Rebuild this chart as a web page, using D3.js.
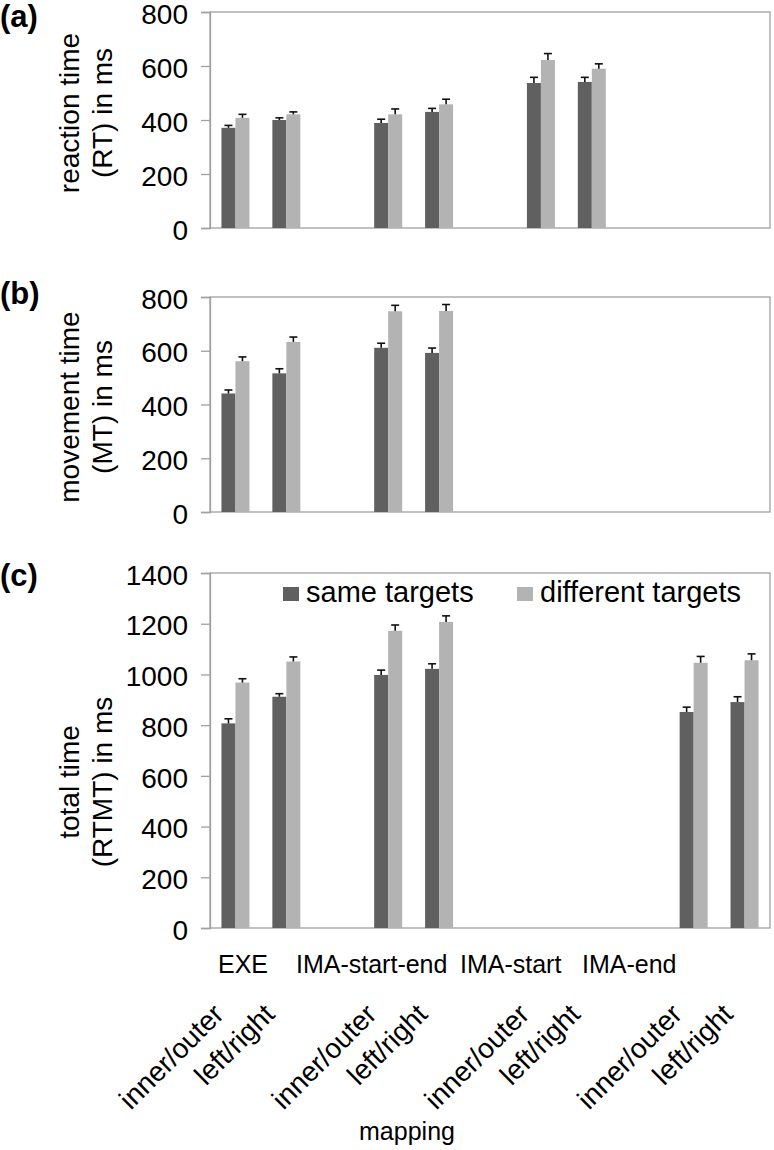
<!DOCTYPE html>
<html lang="en">
<head>
    <meta charset="UTF-8">
    <title>RT / MT / RTMT by mapping</title>
    <style>
        body {
            margin: 0;
            background: #fff;
        }
        svg text {
            font-family: "Liberation Sans", Arial, sans-serif;
            fill: #000;
        }
    </style>
</head>
<body>
    <script src="https://d3js.org/d3.v7.min.js"></script>
    <script>
        const W = 774
        const H = 1150

        const mappings = ['EXE', 'IMA-start-end', 'IMA-start', 'IMA-end']
        const subs = ['inner/outer', 'left/right']
        const seriesNames = ['same targets', 'different targets']

        // order: EXE io, EXE lr, IMA-se io, IMA-se lr, IMA-s io, IMA-s lr, IMA-e io, IMA-e lr
        const rtSame = [371, 400, 389, 430, 537, 541, null, null]
        const rtSameErr = [9, 8, 14, 13, 21, 17, null, null]
        const rtDiff = [408, 421, 421, 458, 622, 590, null, null]
        const rtDiffErr = [13, 9, 20, 19, 24, 18, null, null]

        const mtSame = [441, 516, 611, 592, null, null, null, null]
        const mtSameErr = [13, 17, 17, 18, null, null, null, null]
        const mtDiff = [561, 633, 747, 748, null, null, null, null]
        const mtDiffErr = [16, 18, 22, 24, null, null, null, null]

        const totSame = [807, 912, 998, 1022, null, null, 852, 891]
        const totSameErr = [18, 12, 19, 20, null, null, 19, 21]
        const totDiff = [968, 1051, 1172, 1207, null, null, 1046, 1056]
        const totDiffErr = [15, 18, 23, 24, null, null, 25, 25]

        const ticks800 = [0, 200, 400, 600, 800]
        const ticks1400 = [0, 200, 400, 600, 800, 1000, 1200, 1400]

        const colors = ['#606060', '#b3b3b3']
        const gridGrey = '#a0a0a0'

        // category slots, with an empty slot between mapping groups (Excel style)
        const cats = []
        mappings.forEach((m, i) => subs.forEach(s => cats.push(m + '|' + s)))
        const slots = []
        mappings.forEach((m, i) => {
            subs.forEach(s => slots.push(m + '|' + s))
            if (i < mappings.length - 1) slots.push('gap' + i)
        })

        const left = 210
        const right = 770

        const x = d3.scaleBand()
            .domain(slots)
            .range([left, right])

        const inner = d3.scaleBand()
            .domain([0, 1])
            .range([-14, 14])

        const svg = d3.select('body')
            .append('svg')
            .attr('width', W)
            .attr('height', H)

        function drawPanel(p) {
            const y = d3.scaleLinear()
                .domain([0, p.max])
                .range([p.bottom, p.top])

            const g = svg.append('g')

            // plot frame
            g.append('rect')
                .attr('x', left)
                .attr('y', p.top)
                .attr('width', right - left)
                .attr('height', p.bottom - p.top)
                .attr('fill', 'none')
                .attr('stroke', gridGrey)
                .attr('stroke-width', 1.3)

            const yAxis = d3.axisLeft(y)
                .tickValues(p.ticks)
                .tickSize(9)
                .tickPadding(13)
                .tickFormat(d3.format('d'))

            const ax = g.append('g')
                .attr('transform', `translate(${left}, 0)`)
                .call(yAxis)
            ax.select('.domain').attr('stroke', gridGrey).attr('stroke-width', 1.3)
            ax.selectAll('.tick line').attr('stroke', gridGrey).attr('stroke-width', 1.3)
            ax.selectAll('.tick text')
                .attr('font-size', 28)
                .attr('dy', '0.4em')
                .attr('font-family', '"Liberation Sans", Arial, sans-serif')
                .attr('fill', '#000')

            // bars
            p.series.forEach((s, si) => {
                const rows = cats.map((c, i) => ({ c: c, v: s.values[i], e: s.err[i] }))
                    .filter(d => d.v != null)
                const cx = d => x(d.c) + x.bandwidth() / 2 + inner(si)

                g.append('g')
                    .selectAll('rect')
                    .data(rows)
                    .enter()
                    .append('rect')
                    .attr('x', cx)
                    .attr('y', d => y(d.v))
                    .attr('width', inner.bandwidth())
                    .attr('height', d => y(0) - y(d.v))
                    .attr('fill', colors[si])

                const eb = g.append('g')
                    .attr('stroke', '#111')
                    .attr('stroke-width', 1.6)
                const mid = d => cx(d) + inner.bandwidth() / 2
                eb.selectAll('line.v')
                    .data(rows)
                    .enter()
                    .append('line')
                    .attr('x1', mid)
                    .attr('x2', mid)
                    .attr('y1', d => y(d.v))
                    .attr('y2', d => y(d.v + d.e))
                eb.selectAll('line.c')
                    .data(rows)
                    .enter()
                    .append('line')
                    .attr('x1', d => mid(d) - 4)
                    .attr('x2', d => mid(d) + 4)
                    .attr('y1', d => y(d.v + d.e))
                    .attr('y2', d => y(d.v + d.e))
            })

            // y title (two lines)
            const cy = p.titleY
            g.append('text')
                .attr('transform', `translate(79, ${cy}) rotate(-90)`)
                .attr('text-anchor', 'middle')
                .attr('font-size', 28)
                .text(p.title[0])
            g.append('text')
                .attr('transform', `translate(112, ${cy}) rotate(-90)`)
                .attr('text-anchor', 'middle')
                .attr('font-size', 28)
                .text(p.title[1])

            // panel label
            g.append('text')
                .attr('x', 0)
                .attr('y', p.labelY)
                .attr('font-size', 31)
                .attr('font-weight', 'bold')
                .text(p.label)

            return y
        }

        drawPanel({
            max: 800, top: 12, bottom: 228, ticks: ticks800,
            title: ['reaction time', '(RT) in ms'], titleY: 113,
            label: '(a)', labelY: 27,
            series: [{ values: rtSame, err: rtSameErr }, { values: rtDiff, err: rtDiffErr }]
        })

        drawPanel({
            max: 800, top: 297, bottom: 512, ticks: ticks800,
            title: ['movement time', '(MT) in ms'], titleY: 407,
            label: '(b)', labelY: 304,
            series: [{ values: mtSame, err: mtSameErr }, { values: mtDiff, err: mtDiffErr }]
        })

        drawPanel({
            max: 1400, top: 573, bottom: 928, ticks: ticks1400,
            title: ['total time', '(RTMT) in ms'], titleY: 782,
            label: '(c)', labelY: 586,
            series: [{ values: totSame, err: totSameErr }, { values: totDiff, err: totDiffErr }]
        })

        // legend inside panel (c)
        const legendX = [283, 517]
        const legend = svg.append('g')
            .selectAll('g')
            .data(seriesNames)
            .enter()
            .append('g')
            .attr('transform', (d, i) => `translate(${legendX[i]}, 587)`)
        legend.append('rect')
            .attr('width', 16)
            .attr('height', 14)
            .attr('fill', (d, i) => colors[i])
        legend.append('text')
            .attr('x', 23)
            .attr('y', 15)
            .attr('font-size', 29)
            .text(d => d)

        // mapping group labels (free text boxes below panel c, left edges)
        const groupLabelOffset = [8, 86, 250, 372]
        svg.append('g')
            .selectAll('text')
            .data(mappings)
            .enter()
            .append('text')
            .attr('x', (d, i) => left + groupLabelOffset[i])
            .attr('y', 973)
            .attr('font-size', 25)
            .text(d => d)

        // rotated sub-category labels
        svg.append('g')
            .selectAll('text')
            .data(cats)
            .enter()
            .append('text')
            .attr('transform', d => `translate(${x(d) + x.bandwidth() / 2 - 10}, 1016) rotate(-45)`)
            .attr('text-anchor', 'end')
            .attr('font-size', 28)
            .text(d => d.split('|')[1])

        svg.append('text')
            .attr('x', 407)
            .attr('y', 1140)
            .attr('text-anchor', 'middle')
            .attr('font-size', 25)
            .text('mapping')
    </script>
</body>
</html>
